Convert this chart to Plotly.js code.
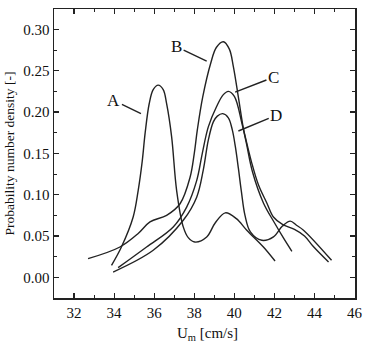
<!DOCTYPE html>
<html>
<head>
<meta charset="utf-8">
<script src="https://cdn.plot.ly/plotly-3.0.1.min.js"></script>
<style>html,body{margin:0;padding:0;background:#fff;}#chart{width:368px;height:341px;}</style>
</head>
<body>
<div id="chart"></div>
<script>
// Curve A
var xA = [33.87, 34.37, 34.95, 35.20, 35.40, 35.55, 35.75, 35.95, 36.20, 36.45, 36.62, 36.87, 37.12, 37.45, 37.70, 38.03, 38.62, 39.05, 39.55, 40.10, 40.62, 41.45, 42.03];
var yA = [0.0145, 0.037, 0.073, 0.105, 0.140, 0.175, 0.210, 0.227, 0.2325, 0.227, 0.210, 0.170, 0.105, 0.061, 0.048, 0.0427, 0.0488, 0.066, 0.078, 0.071, 0.057, 0.0367, 0.0197];
// Curve B
var xB = [32.70, 34.29, 35.20, 35.79, 36.62, 37.29, 37.79, 38.00, 38.15, 38.42, 38.82, 39.10, 39.45, 39.75, 39.95, 40.20, 40.45, 40.62, 40.90, 41.45, 42.00, 42.44, 42.87];
var yB = [0.0226, 0.0367, 0.053, 0.067, 0.075, 0.089, 0.121, 0.150, 0.178, 0.218, 0.259, 0.278, 0.285, 0.276, 0.255, 0.218, 0.180, 0.160, 0.128, 0.090, 0.066, 0.048, 0.0315];
// Curve C
var xC = [34.20, 35.62, 36.95, 37.62, 38.12, 38.40, 38.70, 39.12, 39.45, 39.70, 40.00, 40.40, 40.85, 41.20, 41.62, 41.95, 42.40, 43.00, 43.50, 43.93, 44.70];
var yC = [0.0117, 0.0367, 0.061, 0.085, 0.117, 0.150, 0.182, 0.207, 0.221, 0.225, 0.219, 0.184, 0.140, 0.112, 0.090, 0.073, 0.064, 0.058, 0.050, 0.0375, 0.0185];
// Curve D
var xD = [33.95, 35.95, 37.45, 38.12, 38.45, 38.70, 38.95, 39.15, 39.42, 39.70, 39.90, 40.05, 40.20, 40.35, 40.53, 40.80, 41.37, 41.95, 42.40, 42.79, 43.10, 43.45, 44.85];
var yD = [0.0064, 0.0327, 0.069, 0.097, 0.130, 0.166, 0.188, 0.195, 0.198, 0.193, 0.178, 0.158, 0.132, 0.104, 0.075, 0.055, 0.0448, 0.049, 0.062, 0.068, 0.063, 0.057, 0.0206];

var labels = ['A', 'B', 'C', 'D'];
var labelTextX = [33.99, 37.12, 41.95, 42.09];
var labelTextY = [0.214, 0.279, 0.242, 0.196];
var labelPointX = [35.34, 38.62, 40.04, 40.20];
var labelPointY = [0.198, 0.2615, 0.224, 0.177];

var xTitle = 'U<sub>m</sub> [cm/s]';
var yTitle = 'Probability number density [-]';

var lineStyle = {color: '#222', width: 1.4, shape: 'spline', smoothing: 1};
var series = [[xA, yA], [xB, yB], [xC, yC], [xD, yD]];
var data = series.map(function (s, i) {
  return {x: s[0], y: s[1], mode: 'lines', line: lineStyle, name: labels[i], showlegend: false, hoverinfo: 'none'};
});

var annotations = labels.map(function (t, i) {
  return {
    text: t, x: labelPointX[i], y: labelPointY[i], xref: 'x', yref: 'y',
    ax: labelTextX[i], ay: labelTextY[i], axref: 'x', ayref: 'y',
    showarrow: true, arrowhead: 0, arrowwidth: 1.4, arrowcolor: '#222',
    font: {family: 'Liberation Serif', size: 17, color: '#111'}
  };
});
annotations.push({
  text: xTitle, xref: 'paper', yref: 'paper', x: 0.51, y: 0,
  xanchor: 'center', yanchor: 'top', yshift: -25, showarrow: false,
  font: {family: 'Liberation Serif', size: 15, color: '#111'}
});

var axisCommon = {
  showgrid: false, zeroline: false, showline: true, linecolor: '#222', linewidth: 1.5,
  mirror: 'allticks', ticks: 'inside', ticklen: 5, tickwidth: 1.2, tickcolor: '#222',
  tickfont: {family: 'Liberation Serif', size: 15, color: '#111'}
};

var layout = {
  width: 368, height: 341,
  margin: {l: 54, r: 13, t: 9, b: 43},
  paper_bgcolor: '#fff', plot_bgcolor: '#fff',
  font: {family: 'Liberation Serif', color: '#111'},
  xaxis: Object.assign({}, axisCommon, {
    range: [31, 46.02], tick0: 32, dtick: 2,
    minor: {dtick: 1, ticks: 'inside', ticklen: 3, tickwidth: 1, tickcolor: '#222'}
  }),
  yaxis: Object.assign({}, axisCommon, {
    range: [-0.025, 0.3246], tick0: 0, dtick: 0.05, tickformat: '.2f',
    minor: {dtick: 0.025, ticks: 'inside', ticklen: 3, tickwidth: 1, tickcolor: '#222'},
    title: {text: yTitle, font: {family: 'Liberation Serif', size: 13.5, color: '#111'}, standoff: 5}
  }),
  annotations: annotations
};

Plotly.newPlot('chart', data, layout, {staticPlot: true, displayModeBar: false});
</script>
</body>
</html>
